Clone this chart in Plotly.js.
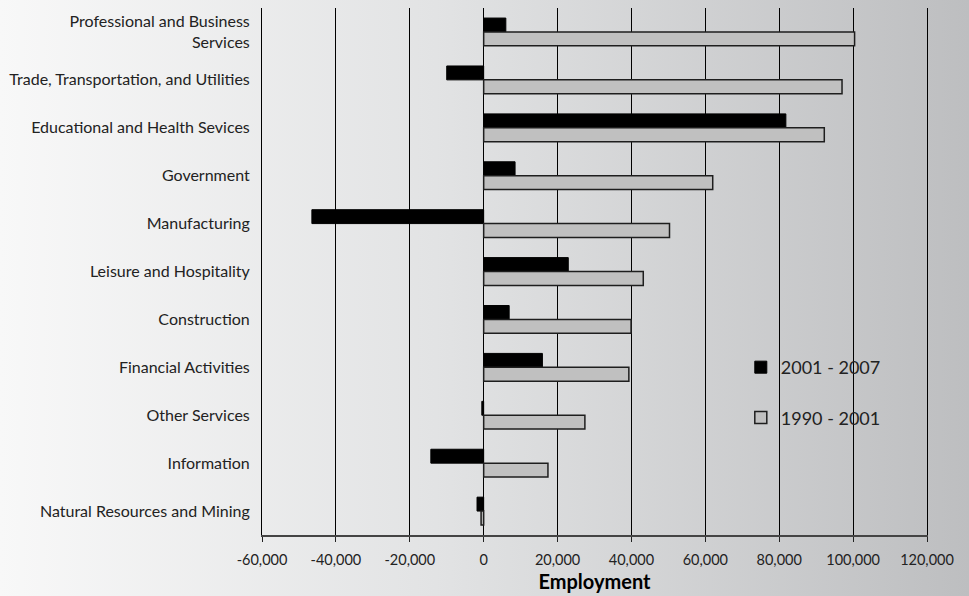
<!DOCTYPE html>
<html>
<head>
<meta charset="utf-8">
<script src="https://cdn.plot.ly/plotly-3.0.1.min.js"></script>
<style>
  html, body { margin: 0; padding: 0; }
  body {
    width: 969px; height: 596px; overflow: hidden;
    background: linear-gradient(90deg, #f8f8f8 0%, #e2e3e4 45%, #bdbec0 100%);
  }
  #chart { width: 969px; height: 596px; }
</style>
</head>
<body>
<div id="chart"></div>
<script>
// Industry sectors, listed top to bottom
const sectors = [
  "Professional and Business<br>Services",
  "Trade, Transportation, and Utilities",
  "Educational and Health Sevices",
  "Government",
  "Manufacturing",
  "Leisure and Hospitality",
  "Construction",
  "Financial Activities",
  "Other Services",
  "Information",
  "Natural Resources and Mining"
];

// Employment change per sector
const change2001to2007 = [6000, -10000, 81800, 8500, -46500, 22900, 6900, 15900, -500, -14300, -1800];
const change1990to2001 = [100400, 97000, 92200, 62000, 50300, 43200, 39900, 39300, 27400, 17400, -700];

const seriesNames = ["2001 - 2007", "1990 - 2001"];

// Employment axis
const xRange = [-60000, 120000];
const xTicks = [-60000, -40000, -20000, 0, 20000, 40000, 60000, 80000, 100000, 120000];
const xTickText = ["-60,000", "-40,000", "-20,000", "0", "20,000", "40,000", "60,000", "80,000", "100,000", "120,000"];

const fontFamily = "Lato, 'Open Sans', 'DejaVu Sans', sans-serif";

const traces = [
  {
    type: "bar", orientation: "h",
    name: seriesNames[0], legendgroup: "a",
    y: sectors, x: change2001to2007,
    marker: { color: "#000000", line: { color: "#000000", width: 1 } },
    hoverinfo: "x+y"
  },
  {
    type: "bar", orientation: "h",
    name: seriesNames[1], legendgroup: "b",
    y: sectors, x: change1990to2001,
    marker: { color: "#c0c0c0", line: { color: "#1e1e1e", width: 1.5 } },
    hoverinfo: "x+y"
  }
];

// Category boundary ticks drawn along the zero line
const boundaries = [];
for (let i = 0; i <= sectors.length; i++) boundaries.push(i - 0.5);
const zeroPos = (0 - xRange[0]) / (xRange[1] - xRange[0]);

const layout = {
  width: 969, height: 596,
  margin: { l: 262, r: 42, t: 8, b: 61 },
  paper_bgcolor: "rgba(0,0,0,0)",
  plot_bgcolor: "rgba(0,0,0,0)",
  font: { family: fontFamily, color: "#222222", size: 14 },
  barmode: "group",
  bargap: 0.42,
  bargroupgap: 0,
  showlegend: true,
  legend: {
    x: 0.720, xanchor: "left",
    y: 0.353, yanchor: "top",
    bgcolor: "rgba(0,0,0,0)",
    font: { family: fontFamily, size: 18, color: "#222222" },
    traceorder: "grouped",
    tracegroupgap: 24
  },
  xaxis: {
    range: xRange,
    tickvals: xTicks, ticktext: xTickText,
    showgrid: true, gridcolor: "#000000", gridwidth: 1,
    zeroline: false,
    showline: true, linecolor: "#444444", linewidth: 1.5,
    ticks: "outside", ticklen: 5, tickcolor: "#222222", tickwidth: 1,
    ticklabelstandoff: 6,
    tickfont: { family: fontFamily, size: 14.5, color: "#222222" },
    title: { text: "<b>Employment</b>", font: { family: fontFamily, size: 20, color: "#000000" }, standoff: 8 },
    fixedrange: true
  },
  yaxis: {
    type: "category",
    autorange: "reversed",
    showgrid: false, zeroline: false,
    showline: true, linecolor: "#000000", linewidth: 1, mirror: true,
    ticks: "", ticklabelstandoff: 8,
    tickfont: { family: fontFamily, size: 16, color: "#222222" },
    fixedrange: true
  },
  yaxis2: {
    overlaying: "y", anchor: "free", position: zeroPos,
    type: "linear",
    range: [sectors.length - 0.5, -0.5],
    tickvals: boundaries,
    showticklabels: false,
    ticks: "outside", ticklen: 5, tickcolor: "#222222", tickwidth: 1.5,
    showgrid: false, zeroline: false,
    showline: true, linecolor: "#000000", linewidth: 1.5,
    fixedrange: true
  }
};

Plotly.newPlot("chart", traces, layout, { displayModeBar: false, staticPlot: true });
</script>
</body>
</html>
